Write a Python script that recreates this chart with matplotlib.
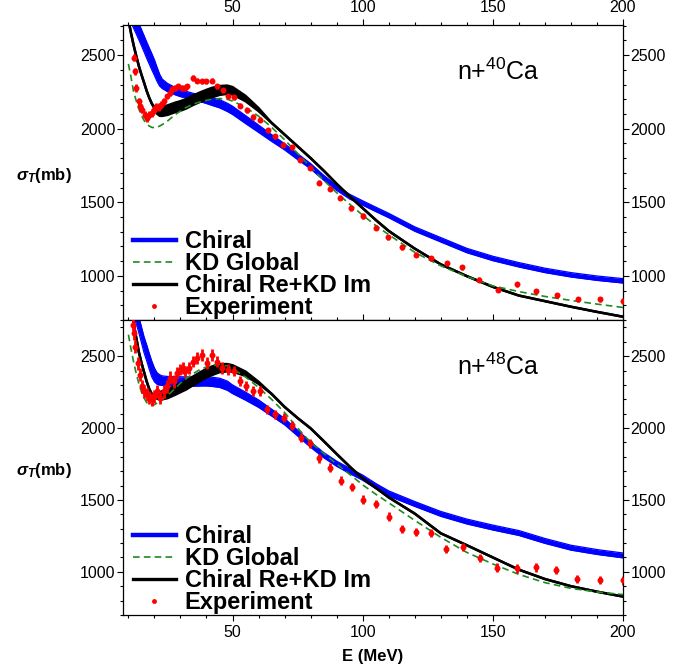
import numpy as np
import matplotlib
matplotlib.use("Agg")
import matplotlib.pyplot as plt
from matplotlib.lines import Line2D
from matplotlib.ticker import MultipleLocator

plt.rcParams["font.family"] = ["Liberation Sans", "DejaVu Sans"]
plt.rcParams["mathtext.fontset"] = "custom"
plt.rcParams["mathtext.rm"] = "Liberation Sans"
plt.rcParams["mathtext.it"] = "Liberation Sans:italic:bold"

# energy grid of the theory curves (MeV)
e_th = [10, 11, 12, 13, 14, 15, 16, 17, 18, 19, 20, 21, 22, 23, 25, 28, 30, 32, 35, 38,
        40, 42, 45, 48, 50, 55, 60, 65, 70, 75, 80, 85, 90, 95, 100, 105, 110, 120, 130,
        140, 150, 160, 170, 180, 190, 200]

# ---- n + 40Ca ----
chiral40_lo = [2765, 2725, 2683, 2645, 2605, 2565, 2523, 2480, 2440, 2400, 2362, 2322, 2290,
               2273, 2252, 2230, 2218, 2209, 2196, 2182, 2171, 2159, 2142, 2117, 2097, 2035,
               1975, 1914, 1856, 1790, 1727, 1650, 1581, 1522, 1480, 1437, 1395, 1303, 1230,
               1157, 1103, 1060, 1022, 992, 969, 951]
chiral40_hi = [2875, 2835, 2793, 2755, 2715, 2675, 2633, 2590, 2550, 2510, 2468, 2418, 2370,
               2337, 2308, 2280, 2266, 2255, 2240, 2228, 2219, 2211, 2198, 2173, 2153, 2089,
               2025, 1960, 1898, 1830, 1763, 1684, 1613, 1554, 1510, 1467, 1425, 1333, 1260,
               1187, 1133, 1090, 1052, 1022, 999, 981]
kd40 = [2440, 2350, 2251, 2190, 2135, 2090, 2057, 2035, 2018, 2009, 2007, 2011, 2018, 2028,
        2052, 2096, 2120, 2143, 2168, 2185, 2193, 2200, 2205, 2200, 2188, 2145, 2085, 2010,
        1925, 1832, 1740, 1650, 1565, 1487, 1412, 1342, 1280, 1160, 1068, 995, 932, 893, 860,
        833, 808, 785]
mix40_lo = [2740, 2650, 2568, 2495, 2427, 2368, 2314, 2258, 2210, 2170, 2135, 2102, 2088,
            2087, 2094, 2113, 2123, 2136, 2163, 2186, 2200, 2213, 2230, 2237, 2233, 2187,
            2120, 2040, 1960, 1880, 1800, 1715, 1625, 1540, 1460, 1380, 1305, 1185, 1078,
            998, 925, 866, 828, 790, 755, 722]
mix40_hi = [2740, 2650, 2568, 2495, 2427, 2368, 2314, 2258, 2210, 2170, 2150, 2142, 2142,
            2147, 2158, 2177, 2187, 2200, 2227, 2250, 2264, 2277, 2290, 2293, 2283, 2223,
            2140, 2040, 1960, 1880, 1800, 1715, 1625, 1540, 1460, 1380, 1305, 1185, 1078,
            998, 925, 866, 828, 790, 755, 722]
exp40_e = [12.0, 12.7, 13.1, 14.0, 14.6, 15.2, 16.3, 17.2, 17.8, 18.9, 19.8, 20.7, 21.7, 22.7,
           23.6, 24.9, 25.8, 26.8, 27.9, 29.2, 30.5, 31.7, 32.6, 34.8, 36.5, 38.2, 40.0, 42.0,
           44.0, 46.2, 48.4, 50.4, 52.9, 55.5, 58.0, 60.7, 63.5, 66.5, 69.5, 72.7, 76.0, 79.6,
           83.2, 87.3, 91.4, 95.6, 100.1, 105.0, 109.7, 115.1, 120.6, 126.4, 132.2, 138.3,
           144.8, 151.8, 159.1, 166.5, 174.5, 182.6, 191.2, 200.0]
exp40_s = [2482, 2391, 2277, 2186, 2152, 2130, 2095, 2073, 2095, 2107, 2130, 2148, 2148, 2164,
           2186, 2220, 2243, 2270, 2277, 2289, 2277, 2277, 2289, 2345, 2327, 2323, 2323, 2327,
           2289, 2261, 2220, 2214, 2157, 2125, 2080, 2061, 1989, 1948, 1891, 1873, 1789, 1736,
           1634, 1593, 1532, 1459, 1407, 1327, 1261, 1193, 1143, 1118, 1084, 1057, 975, 907,
           943, 895, 868, 841, 841, 829]
exp40_err = [25, 25, 25, 25, 25, 25, 25, 25, 25, 25, 25, 25, 25, 25, 25, 18, 18, 18, 18, 18,
             18, 18, 18, 18, 18, 18, 18, 18, 18, 18, 18, 18, 18, 18, 18, 18, 18, 18, 18, 18,
             18, 18, 18, 18, 18, 18, 18, 18, 18, 18, 18, 18, 18, 18, 18, 18, 18, 18, 18, 18,
             18, 18]

# ---- n + 48Ca ----
chiral48_lo = [2945, 2865, 2785, 2725, 2665, 2595, 2525, 2470, 2410, 2355, 2322, 2305, 2299,
               2297, 2295, 2293, 2293, 2292, 2291, 2293, 2293, 2290, 2283, 2263, 2240, 2194,
               2144, 2084, 2023, 1945, 1866, 1794, 1734, 1684, 1637, 1579, 1527, 1455, 1386,
               1333, 1291, 1253, 1198, 1151, 1121, 1097]
chiral48_hi = [3055, 2975, 2895, 2835, 2775, 2705, 2635, 2580, 2520, 2465, 2418, 2385, 2371,
               2363, 2359, 2357, 2357, 2356, 2355, 2357, 2357, 2354, 2347, 2327, 2300, 2250,
               2196, 2132, 2067, 1985, 1904, 1830, 1770, 1720, 1673, 1615, 1563, 1489, 1420,
               1367, 1325, 1287, 1232, 1185, 1155, 1131]
kd48 = [2650, 2550, 2460, 2380, 2310, 2252, 2210, 2178, 2163, 2158, 2163, 2174, 2185, 2198,
        2224, 2278, 2312, 2342, 2380, 2412, 2425, 2435, 2442, 2432, 2412, 2355, 2283, 2200,
        2108, 2000, 1900, 1825, 1750, 1678, 1605, 1540, 1480, 1358, 1240, 1135, 1055, 982, 925,
        885, 860, 842]
mix48_lo = [3000, 2850, 2730, 2630, 2530, 2455, 2390, 2325, 2272, 2236, 2217, 2205, 2198,
            2200, 2208, 2232, 2250, 2267, 2300, 2332, 2352, 2368, 2389, 2395, 2393, 2363,
            2308, 2238, 2147, 2070, 1998, 1910, 1820, 1732, 1650, 1585, 1518, 1405, 1268,
            1185, 1100, 1015, 950, 900, 862, 828]
mix48_hi = [3000, 2850, 2730, 2630, 2530, 2455, 2390, 2325, 2272, 2236, 2233, 2237, 2250,
            2256, 2268, 2292, 2310, 2327, 2360, 2392, 2412, 2428, 2445, 2445, 2437, 2393,
            2322, 2238, 2147, 2070, 1998, 1910, 1820, 1732, 1650, 1585, 1518, 1405, 1268,
            1185, 1100, 1015, 950, 900, 862, 828]
exp48_e = [11.6, 12.0, 12.7, 13.7, 14.6, 15.2, 15.9, 17.1, 17.8, 19.0, 19.7, 21.0, 22.3, 23.5,
           24.8, 26.1, 27.4, 28.7, 30.0, 31.0, 31.9, 33.2, 34.8, 36.4, 38.3, 40.2, 42.1, 44.1,
           46.0, 48.3, 50.4, 52.7, 55.3, 57.9, 60.4, 63.3, 66.4, 69.6, 72.8, 76.2, 79.8, 83.4,
           87.5, 91.6, 95.8, 100.2, 105.1, 110.0, 115.2, 120.6, 126.3, 132.1, 138.4, 144.9,
           151.7, 159.1, 166.5, 174.4, 182.5, 191.0, 200.0]
exp48_s = [2720, 2658, 2567, 2452, 2372, 2291, 2257, 2234, 2211, 2199, 2222, 2257, 2211, 2257,
           2291, 2349, 2326, 2383, 2406, 2417, 2394, 2417, 2463, 2486, 2509, 2452, 2509, 2463,
           2417, 2406, 2394, 2326, 2291, 2257, 2257, 2131, 2096, 2073, 2016, 1934, 1893, 1790,
           1724, 1634, 1590, 1502, 1471, 1384, 1298, 1276, 1269, 1158, 1172, 1095, 1028, 1025,
           1032, 1014, 951, 944, 940]
exp48_err = [45, 45, 45, 45, 45, 45, 45, 45, 45, 45, 45, 45, 45, 45, 45, 45, 45, 45, 40, 40,
             40, 40, 40, 40, 40, 40, 40, 40, 40, 40, 35, 35, 35, 35, 35, 30, 30, 30, 30, 30,
             30, 30, 30, 30, 30, 30, 30, 30, 30, 30, 30, 30, 30, 30, 30, 30, 30, 30, 30, 30, 30]

BLUE = "#0000ff"
GREEN = "#1f8a1f"
RED = "#ff0000"


def draw_panel(ax, chi_lo, chi_hi, kd, mix_lo, mix_hi, ex_e, ex_s, ex_err, label, ytop):
    ax.fill_between(e_th, chi_lo, chi_hi, color=BLUE, lw=0, zorder=1)
    ax.plot(e_th, chi_lo, color=BLUE, lw=0.9, zorder=1)
    ax.plot(e_th, chi_hi, color=BLUE, lw=0.9, zorder=1)
    ax.fill_between(e_th, mix_lo, mix_hi, color="black", lw=0, zorder=2)
    ax.plot(e_th, mix_lo, color="black", lw=1.8, zorder=2)
    ax.plot(e_th, mix_hi, color="black", lw=1.8, zorder=2)
    ax.plot(e_th, kd, color=GREEN, lw=1.2, ls=(0, (4, 2.5)), zorder=3)
    ax.errorbar(ex_e, ex_s, yerr=ex_err, fmt="o", color=RED, ms=4.3, mew=0,
                elinewidth=2.0, capsize=0, zorder=4)

    ax.set_xlim(8, 200)
    ax.set_ylim(700, ytop)
    ax.xaxis.set_major_locator(MultipleLocator(50))
    ax.xaxis.set_minor_locator(MultipleLocator(10))
    ax.yaxis.set_major_locator(MultipleLocator(500))
    ax.yaxis.set_minor_locator(MultipleLocator(100))
    ax.tick_params(which="both", direction="out", top=True, right=True,
                   labelright=True, labelsize=11.5, width=0.8)
    ax.tick_params(which="major", length=4.5)
    ax.tick_params(which="minor", length=2.5)
    ax.tick_params(axis="y", pad=1)
    ax.tick_params(axis="x", pad=3)
    for s in ax.spines.values():
        s.set_linewidth(0.9)

    ax.text(0.75, 0.84, label, transform=ax.transAxes, ha="center", va="center",
            fontsize=18)

    handles = [
        Line2D([], [], color=BLUE, lw=3.2),
        Line2D([], [], color=GREEN, lw=1.2, ls=(0, (4, 2.5))),
        Line2D([], [], color="black", lw=2.4),
        Line2D([], [], color=RED, ls="none", marker="o", ms=3.5, mew=0),
    ]
    labels = ["Chiral", "KD Global", "Chiral Re+KD Im", "Experiment"]
    ax.legend(handles, labels, loc="lower left", bbox_to_anchor=(0.0, -0.03),
              frameon=False, prop={"weight": "bold", "size": 17}, handlelength=1.85,
              handletextpad=0.35, labelspacing=-0.04, borderpad=0.2, borderaxespad=0.2)


fig = plt.figure(figsize=(7, 6.68), dpi=100)
ax1 = fig.add_axes([0.176, 0.521, 0.714, 0.4416])
ax2 = fig.add_axes([0.176, 0.0794, 0.714, 0.4416])

draw_panel(ax1, chiral40_lo, chiral40_hi, kd40, mix40_lo, mix40_hi,
           exp40_e, exp40_s, exp40_err, r"n+$^{40}$Ca", 2705)
draw_panel(ax2, chiral48_lo, chiral48_hi, kd48, mix48_lo, mix48_hi,
           exp48_e, exp48_s, exp48_err, r"n+$^{48}$Ca", 2752)

ax1.tick_params(labeltop=True, labelbottom=False)
ax2.tick_params(labeltop=False, labelbottom=True)

fig.text(0.063, 0.738, r"$\sigma_T$(mb)", ha="center", va="center",
         fontsize=12, fontweight="bold")
fig.text(0.063, 0.296, r"$\sigma_T$(mb)", ha="center", va="center",
         fontsize=12, fontweight="bold")
fig.text(0.533, 0.0165, "E (MeV)", ha="center", va="center",
         fontsize=12, fontweight="bold")

fig.savefig("out.png", dpi=100)
